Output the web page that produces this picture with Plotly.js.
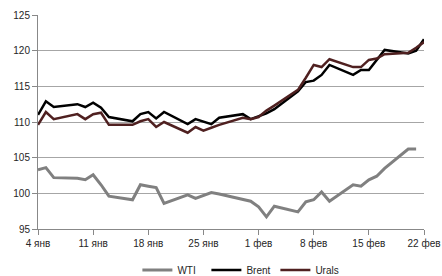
<!DOCTYPE html>
<html>
<head>
<meta charset="utf-8">
<script src="https://cdn.plot.ly/plotly-3.0.1.min.js"></script>
<style>html,body{margin:0;padding:0;background:#fff;}#chart{width:442px;height:276px;}</style>
</head>
<body>
<div id="chart"></div>
<script>
var dates = ["2012-01-04","2012-01-05","2012-01-06","2012-01-09","2012-01-10","2012-01-11","2012-01-12","2012-01-13",
  "2012-01-16","2012-01-17","2012-01-18","2012-01-19","2012-01-20","2012-01-23","2012-01-24","2012-01-25","2012-01-26","2012-01-27",
  "2012-01-30","2012-01-31","2012-02-01","2012-02-02","2012-02-03","2012-02-06","2012-02-07","2012-02-08","2012-02-09","2012-02-10",
  "2012-02-13","2012-02-14","2012-02-15","2012-02-16","2012-02-17","2012-02-20","2012-02-21","2012-02-22"];
var wti = [103.3,103.6,102.2,102.1,101.9,102.6,101.2,99.6,99.1,101.2,101.0,100.8,98.6,99.8,99.3,99.7,100.1,99.9,
  99.2,98.9,98.1,96.7,98.2,97.4,98.8,99.1,100.2,98.9,101.2,101.0,101.9,102.4,103.5,106.2,106.2,null];
var brent = [111.0,112.9,112.1,112.5,112.1,112.7,112.0,110.7,110.1,111.1,111.4,110.5,111.4,109.7,110.4,110.0,109.7,110.6,
  111.1,110.4,110.8,111.2,111.8,114.3,115.6,115.8,116.6,118.0,116.6,117.3,117.3,118.7,120.1,119.6,120.0,121.6];
var urals = [109.6,111.4,110.4,111.1,110.4,111.1,111.3,109.6,109.6,110.1,110.4,109.3,110.0,108.5,109.3,108.8,109.2,109.6,
  110.6,110.4,110.7,111.6,112.3,114.5,116.2,118.0,117.7,118.8,117.7,117.7,118.7,118.9,119.5,119.7,120.4,121.2];
var tickDates = ["2012-01-04","2012-01-11","2012-01-18","2012-01-25","2012-02-01","2012-02-08","2012-02-15","2012-02-22"];
var tickLabels = ["4 янв","11 янв","18 янв","25 янв","1 фев","8 фев","15 фев","22 фев"];
var yTicks = [95,100,105,110,115,120,125];

var font = {family: "Liberation Sans, Arial, sans-serif", size: 10, color: "#262626"};
var traces = [
  {x: dates, y: wti, name: "WTI", type: "scatter", mode: "lines", line: {color: "#808080", width: 3}},
  {x: dates, y: brent, name: "Brent", type: "scatter", mode: "lines", line: {color: "#000000", width: 2.5}},
  {x: dates, y: urals, name: "Urals", type: "scatter", mode: "lines", line: {color: "#4f2020", width: 2.5}}
];
var layout = {
  width: 442, height: 276,
  margin: {l: 38, r: 18, t: 15, b: 47, autoexpand: false},
  paper_bgcolor: "#fff", plot_bgcolor: "#fff",
  font: font,
  showlegend: true,
  legend: {orientation: "h", x: 0.545, xanchor: "center", xref: "container", y: 0.022, yanchor: "middle", yref: "container",
    font: font, entrywidth: 24, traceorder: "normal", tracegroupgap: 0, itemwidth: 30},
  xaxis: {
    type: "date", range: ["2012-01-04","2012-02-22"],
    tickmode: "array", tickvals: tickDates, ticktext: tickLabels,
    showgrid: false, zeroline: false, automargin: false,
    showline: true, linecolor: "#888", linewidth: 1,
    ticks: "outside", ticklen: 5, tickcolor: "#888",
    tickfont: font
  },
  yaxis: {
    range: [95, 125], tickmode: "array", tickvals: yTicks, automargin: false,
    showgrid: true, gridcolor: "#a6a6a6", gridwidth: 1,
    zeroline: false, showline: true, linecolor: "#888", linewidth: 1,
    ticks: "outside", ticklen: 5, tickcolor: "#888",
    tickfont: font
  }
};
Plotly.newPlot("chart", traces, layout, {displayModeBar: false, staticPlot: true});
</script>
</body>
</html>
